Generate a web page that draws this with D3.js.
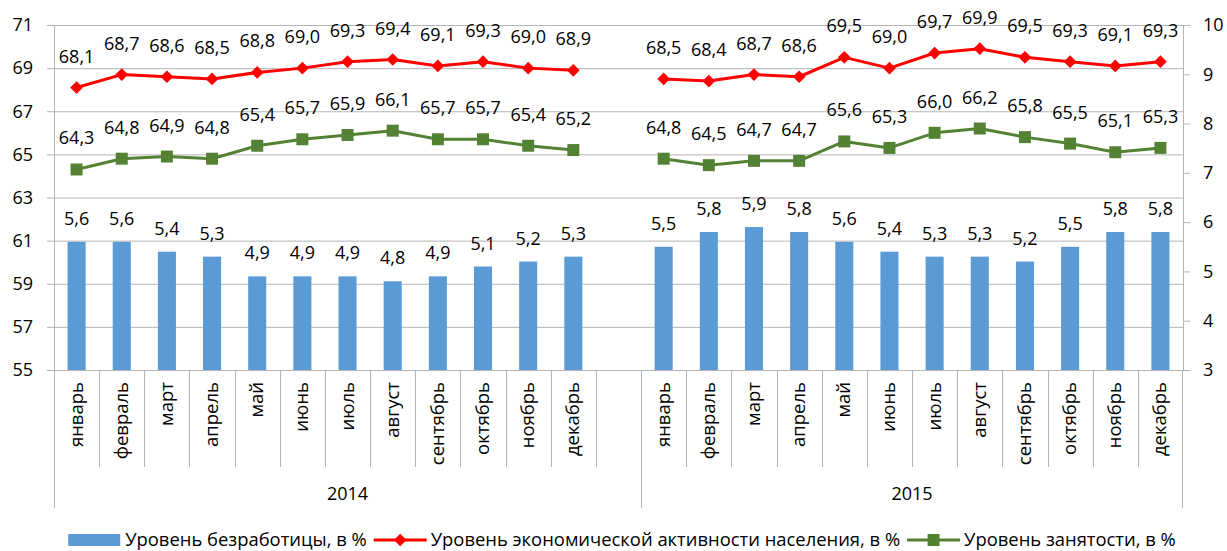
<!DOCTYPE html>
<html>
<head>
<meta charset="utf-8">
<script src="https://cdn.jsdelivr.net/npm/d3@7"></script>
<style>
  body { margin: 0; background: #fff; }
  svg { display: block; font-family: "Open Sans", "Noto Sans", sans-serif; }
</style>
</head>
<body>
<div id="chart"></div>
<script>
// chart data
const months = ["январь", "февраль", "март", "апрель", "май", "июнь", "июль", "август", "сентябрь", "октябрь", "ноябрь", "декабрь"];
const years = ["2014", "2015"];

const unemployment2014 = [5.6, 5.6, 5.4, 5.3, 4.9, 4.9, 4.9, 4.8, 4.9, 5.1, 5.2, 5.3];
const unemployment2015 = [5.5, 5.8, 5.9, 5.8, 5.6, 5.4, 5.3, 5.3, 5.2, 5.5, 5.8, 5.8];
const activity2014 = [68.1, 68.7, 68.6, 68.5, 68.8, 69.0, 69.3, 69.4, 69.1, 69.3, 69.0, 68.9];
const activity2015 = [68.5, 68.4, 68.7, 68.6, 69.5, 69.0, 69.7, 69.9, 69.5, 69.3, 69.1, 69.3];
const employment2014 = [64.3, 64.8, 64.9, 64.8, 65.4, 65.7, 65.9, 66.1, 65.7, 65.7, 65.4, 65.2];
const employment2015 = [64.8, 64.5, 64.7, 64.7, 65.6, 65.3, 66.0, 66.2, 65.8, 65.5, 65.1, 65.3];

const leftTicks = [55, 57, 59, 61, 63, 65, 67, 69, 71];
const rightTicks = [3, 4, 5, 6, 7, 8, 9, 10];

const legendNames = ["Уровень безработицы, в %", "Уровень экономической активности населения, в %", "Уровень занятости, в %"];

const blue = "#5B9BD5", red = "#FF0000", green = "#548235", grid = "#B4B4B4";

var width = 1227, height = 551;
var margin = { top: 25, right: 44, bottom: 181, left: 54 };
var plotW = width - margin.left - margin.right;
var plotH = height - margin.top - margin.bottom;

var fmt = function (v) { return d3.format(".1f")(v).replace(".", ","); };

// rows: 2014 months, one empty slot, 2015 months
var rows = [];
months.forEach(function (m, i) {
  rows.push({ key: "2014-" + i, month: m, year: "2014", u: unemployment2014[i], a: activity2014[i], e: employment2014[i] });
});
rows.push({ key: "2014-gap", month: "", year: "2014" });
months.forEach(function (m, i) {
  rows.push({ key: "2015-" + i, month: m, year: "2015", u: unemployment2015[i], a: activity2015[i], e: employment2015[i] });
});

var svg = d3.select("#chart").append("svg")
  .attr("width", width)
  .attr("height", height);

var g = svg.append("g")
  .attr("transform", "translate(" + margin.left + "," + margin.top + ")");

var x = d3.scaleBand().domain(rows.map(function (d) { return d.key; })).range([0, plotW]);
var yL = d3.scaleLinear().domain([55, 71]).range([plotH, 0]);
var yR = d3.scaleLinear().domain([3, 10]).range([plotH, 0]);
var cx = function (d) { return x(d.key) + x.bandwidth() / 2; };

// gridlines
g.append("g")
  .selectAll("line")
  .data(leftTicks.slice(1))
  .enter().append("line")
  .attr("x1", 0).attr("x2", plotW)
  .attr("y1", function (d) { return yL(d) + 0.5; })
  .attr("y2", function (d) { return yL(d) + 0.5; })
  .attr("stroke", grid).attr("stroke-width", 1);

// left axis
var axL = g.append("g").call(d3.axisLeft(yL).tickValues(leftTicks).tickSize(7).tickPadding(14).tickFormat(d3.format("d")));
// right axis
var axR = g.append("g").attr("transform", "translate(" + plotW + ",0)")
  .call(d3.axisRight(yR).tickValues(rightTicks).tickSize(7).tickPadding(13).tickFormat(d3.format("d")));
[axL, axR].forEach(function (ax) {
  ax.select(".domain").attr("stroke", grid);
  ax.selectAll(".tick line").attr("stroke", grid);
  ax.selectAll(".tick text").attr("font-size", 18).attr("fill", "#000").attr("font-family", "Open Sans");
});

// bars
var barW = x.bandwidth() / 2.5;
var data = rows.filter(function (d) { return d.u !== undefined; });
g.selectAll(".bar")
  .data(data)
  .enter().append("rect")
  .attr("class", "bar")
  .attr("x", function (d) { return cx(d) - barW / 2; })
  .attr("y", function (d) { return yR(d.u); })
  .attr("width", barW)
  .attr("height", function (d) { return plotH - yR(d.u); })
  .attr("fill", blue);

g.selectAll(".barLabel")
  .data(data)
  .enter().append("text")
  .attr("x", cx)
  .attr("y", function (d) { return yR(d.u) - 17; })
  .attr("text-anchor", "middle")
  .attr("font-size", 18)
  .text(function (d) { return fmt(d.u); });

// category axis
var bottom = g.append("g").attr("transform", "translate(0," + plotH + ")");
bottom.append("line").attr("x1", 0).attr("x2", plotW).attr("y1", 0.5).attr("y2", 0.5).attr("stroke", grid);
rows.forEach(function (d, i) {
  var xx = Math.round(x(d.key)) + 0.5;
  var long = i === 0 || d.key === "2015-0";
  bottom.append("line").attr("x1", xx).attr("x2", xx).attr("y1", 0).attr("y2", long ? 138 : 97).attr("stroke", grid);
});
bottom.append("line").attr("x1", plotW - 0.5).attr("x2", plotW - 0.5).attr("y1", 0).attr("y2", 138).attr("stroke", grid);

bottom.selectAll(".month")
  .data(data)
  .enter().append("text")
  .attr("transform", function (d) { return "translate(" + (cx(d) + 6) + ",12) rotate(-90)"; })
  .attr("text-anchor", "end")
  .attr("font-size", 18.5)
  .text(function (d) { return d.month; });

years.forEach(function (yr) {
  var keys = rows.filter(function (d) { return d.year === yr; });
  var x0 = x(keys[0].key), x1 = x(keys[keys.length - 1].key) + x.bandwidth();
  bottom.append("text")
    .attr("x", (x0 + x1) / 2).attr("y", 130)
    .attr("text-anchor", "middle")
    .attr("font-size", 18)
    .text(yr);
});

// lines
function drawSeries(field, color, marker) {
  years.forEach(function (yr) {
    var pts = data.filter(function (d) { return d.year === yr; });
    g.append("path")
      .datum(pts)
      .attr("fill", "none")
      .attr("stroke", color)
      .attr("stroke-width", 3)
      .attr("stroke-linejoin", "round")
      .attr("d", d3.line().x(cx).y(function (d) { return yL(d[field]); }));
  });
  g.selectAll(".m-" + field)
    .data(data)
    .enter().append("path")
    .attr("transform", function (d) { return "translate(" + cx(d) + "," + yL(d[field]) + ")" + (marker === "diamond" ? " rotate(45)" : ""); })
    .attr("d", marker === "diamond" ? "M-4.5,-4.5H4.5V4.5H-4.5Z" : "M-6,-6H6V6H-6Z")
    .attr("fill", color);
  g.selectAll(".l-" + field)
    .data(data)
    .enter().append("text")
    .attr("x", cx)
    .attr("y", function (d) { return yL(d[field]) - 25; })
    .attr("text-anchor", "middle")
    .attr("font-size", 18)
    .text(function (d) { return fmt(d[field]); });
}
drawSeries("a", red, "diamond");
drawSeries("e", green, "square");

// legend
var legend = svg.append("g").attr("transform", "translate(0,540)");
var items = legend.selectAll("g").data(legendNames).enter().append("g");
items.append("text")
  .attr("x", 57).attr("y", 6)
  .attr("font-size", 18.4)
  .text(function (d) { return d; });
var offs = [], acc = 0;
items.each(function (d, i) {
  var w = d3.select(this).select("text").node().getComputedTextLength();
  offs.push(acc);
  acc += 57 + w + 7;
});
var startX = 622 - (acc - 7) / 2;
items.attr("transform", function (d, i) { return "translate(" + (startX + offs[i]) + ",0)"; });
items.each(function (d, i) {
  var it = d3.select(this);
  if (i === 0) {
    it.append("rect").attr("x", 0).attr("y", -6).attr("width", 52).attr("height", 12).attr("fill", blue);
  } else {
    var c = i === 1 ? red : green;
    it.append("line").attr("x1", 0).attr("x2", 53).attr("y1", 0).attr("y2", 0).attr("stroke", c).attr("stroke-width", 3);
    it.append("path")
      .attr("transform", "translate(26.5,0)" + (i === 1 ? " rotate(45)" : ""))
      .attr("d", i === 1 ? "M-4.5,-4.5H4.5V4.5H-4.5Z" : "M-6,-6H6V6H-6Z")
      .attr("fill", c);
  }
});
</script>
</body>
</html>
